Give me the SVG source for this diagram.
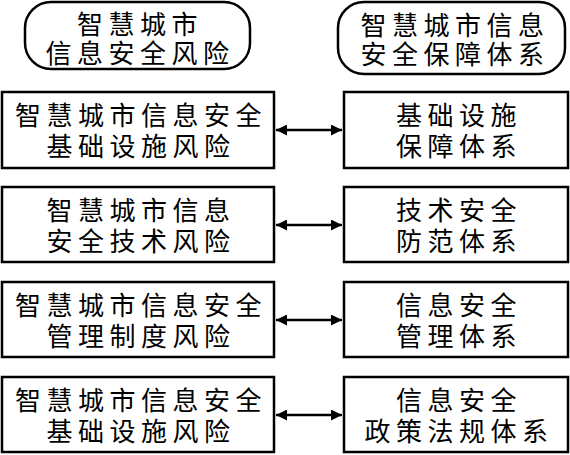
<svg xmlns="http://www.w3.org/2000/svg" width="570" height="455" viewBox="0 0 570 455">
<style>
.box{fill:#fff;stroke:#000;stroke-width:2.5}
.t{font-family:"Noto Sans CJK SC","Noto Sans CJK JP",sans-serif;font-size:26px;fill:#000;text-anchor:middle;letter-spacing:5.5px}
.c{stroke:#000;stroke-width:2.5;fill:none;marker-start:url(#ah);marker-end:url(#ah)}
</style>
<defs>
<marker id="ah" viewBox="0 0 10 10" refX="10" refY="5" markerWidth="4.4" markerHeight="4.4" orient="auto-start-reverse" markerUnits="strokeWidth">
<path d="M0,0 L10,5 L0,10 z" fill="#000"/>
</marker>
</defs>
<rect width="570" height="455" fill="#fff"/>
<g id="h1">
<rect class="box" x="25" y="2" width="225" height="67" rx="26"/>
<text class="t" x="140" y="34">智慧城市</text>
<text class="t" x="140" y="63">信息安全风险</text>
</g>
<g id="h2">
<rect class="box" x="338" y="2" width="227" height="72" rx="26"/>
<text class="t" x="455" y="35">智慧城市信息</text>
<text class="t" x="455" y="64">安全保障体系</text>
</g>
<g id="l1">
<rect class="box" x="2" y="92" width="272" height="76"/>
<text class="t" x="141" y="125">智慧城市信息安全</text>
<text class="t" x="141" y="156">基础设施风险</text>
</g>
<g id="r1">
<rect class="box" x="344" y="92" width="224" height="76"/>
<text class="t" x="459" y="125">基础设施</text>
<text class="t" x="459" y="156">保障体系</text>
</g>
<g id="l2">
<rect class="box" x="2" y="187" width="272" height="75"/>
<text class="t" x="141" y="220">智慧城市信息</text>
<text class="t" x="141" y="251">安全技术风险</text>
</g>
<g id="r2">
<rect class="box" x="344" y="187" width="224" height="75"/>
<text class="t" x="459" y="220">技术安全</text>
<text class="t" x="459" y="251">防范体系</text>
</g>
<g id="l3">
<rect class="box" x="2" y="282" width="272" height="75"/>
<text class="t" x="141" y="315">智慧城市信息安全</text>
<text class="t" x="141" y="346">管理制度风险</text>
</g>
<g id="r3">
<rect class="box" x="344" y="282" width="224" height="75"/>
<text class="t" x="459" y="315">信息安全</text>
<text class="t" x="459" y="346">管理体系</text>
</g>
<g id="l4">
<rect class="box" x="2" y="377" width="272" height="75"/>
<text class="t" x="141" y="410">智慧城市信息安全</text>
<text class="t" x="141" y="441">基础设施风险</text>
</g>
<g id="r4">
<rect class="box" x="344" y="377" width="224" height="75"/>
<text class="t" x="459" y="410">信息安全</text>
<text class="t" x="459" y="441">政策法规体系</text>
</g>
<g id="connectors">
<line class="c" x1="276" y1="130" x2="342" y2="130"/>
<line class="c" x1="276" y1="225" x2="342" y2="225"/>
<line class="c" x1="276" y1="320" x2="342" y2="320"/>
<line class="c" x1="276" y1="415" x2="342" y2="415"/>
</g>
</svg>
